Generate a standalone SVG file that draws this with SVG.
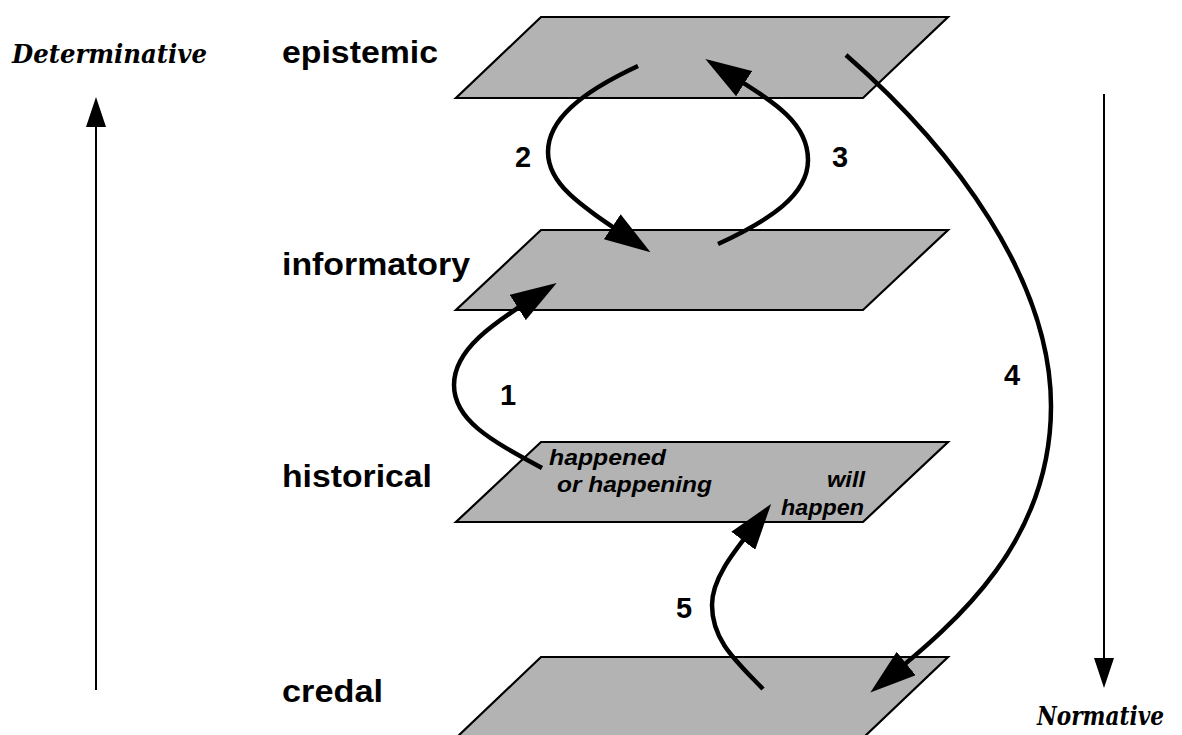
<svg xmlns="http://www.w3.org/2000/svg" width="1182" height="735" viewBox="0 0 1182 735">
<defs>
<style>
.plane{fill:#b3b3b3;stroke:#000;stroke-width:2.2;stroke-linejoin:miter}
.lvl{font-family:"Liberation Sans",Arial,sans-serif;font-weight:bold;font-size:31px;fill:#000}
.num{font-family:"Liberation Sans",Arial,sans-serif;font-weight:bold;font-size:29px;fill:#000;text-anchor:middle}
.ital{font-family:"Liberation Sans",Arial,sans-serif;font-weight:bold;font-style:italic;font-size:22px;fill:#000}
.axis{font-family:"DejaVu Serif Condensed","DejaVu Serif",serif;font-stretch:condensed;font-weight:bold;font-style:italic;font-size:26px;fill:#000}
.conn{fill:none;stroke:#000;stroke-width:4.5}
.ax{fill:none;stroke:#000;stroke-width:2}
</style>
<marker id="ah" markerUnits="userSpaceOnUse" viewBox="0 0 46 30" markerWidth="46" markerHeight="30" refX="31" refY="15" orient="auto">
<path d="M0,0 L46,15 L0,30 z" fill="#000"/>
</marker>
<marker id="ahs" markerUnits="userSpaceOnUse" viewBox="0 0 30 20" markerWidth="30" markerHeight="20" refX="4" refY="10" orient="auto">
<path d="M0,0 L30,10 L0,20 z" fill="#000"/>
</marker>
</defs>
<g id="axis-determinative">
<line class="ax" x1="96" y1="690" x2="96" y2="123" marker-end="url(#ahs)"/>
<text class="axis" x="12" y="63" textLength="195" lengthAdjust="spacingAndGlyphs">Determinative</text>
</g>
<g id="axis-normative">
<line class="ax" x1="1104" y1="94" x2="1104" y2="662" marker-end="url(#ahs)"/>
<text class="axis" x="1037" y="725" font-size="23" textLength="127" lengthAdjust="spacingAndGlyphs">Normative</text>
</g>
<g id="epistemic">
<polygon class="plane" points="541,17 948,17 863,98 456,98"/>
<text class="lvl" x="282" y="63" textLength="156" lengthAdjust="spacingAndGlyphs">epistemic</text>
</g>
<g id="informatory">
<polygon class="plane" points="541,230 948,230 863,310 456,310"/>
<text class="lvl" x="282" y="275" textLength="188" lengthAdjust="spacingAndGlyphs">informatory</text>
</g>
<g id="historical">
<polygon class="plane" points="541,442 948,442 863,522 456,522"/>
<text class="lvl" x="282" y="487" textLength="150" lengthAdjust="spacingAndGlyphs">historical</text>
<text class="ital" x="549" y="465" textLength="117" lengthAdjust="spacingAndGlyphs">happened</text>
<text class="ital" x="557" y="492" textLength="155" lengthAdjust="spacingAndGlyphs">or happening</text>
<text class="ital" x="827" y="487" textLength="38" lengthAdjust="spacingAndGlyphs">will</text>
<text class="ital" x="781" y="515" textLength="83" lengthAdjust="spacingAndGlyphs">happen</text>
</g>
<g id="credal">
<polygon class="plane" points="541,657 948,657 863,738 456,738"/>
<text class="lvl" x="282" y="702" textLength="101" lengthAdjust="spacingAndGlyphs">credal</text>
</g>
<g id="connectors">
<path class="conn" d="M542,468 C490,440 454,420 454,385 C454,350 490,325 544,291" marker-end="url(#ah)"/>
<path class="conn" d="M638,66 C580,93 548,120 548,152 C548,185 580,205 638,244" marker-end="url(#ah)"/>
<path class="conn" d="M718,244 C770,220 808,195 808,160 C808,120 770,100 718,67" marker-end="url(#ah)"/>
<path class="conn" d="M846,55 C955,150 1051,280 1051,406 C1051,540 960,620 882,683" marker-end="url(#ah)"/>
<path class="conn" d="M763,689 C735,660 712,640 712,605 C712,575 740,545 762,516" marker-end="url(#ah)"/>
<text class="num" x="508" y="405">1</text>
<text class="num" x="523" y="167">2</text>
<text class="num" x="840" y="167">3</text>
<text class="num" x="1012" y="385">4</text>
<text class="num" x="684" y="618">5</text>
</g>
</svg>
